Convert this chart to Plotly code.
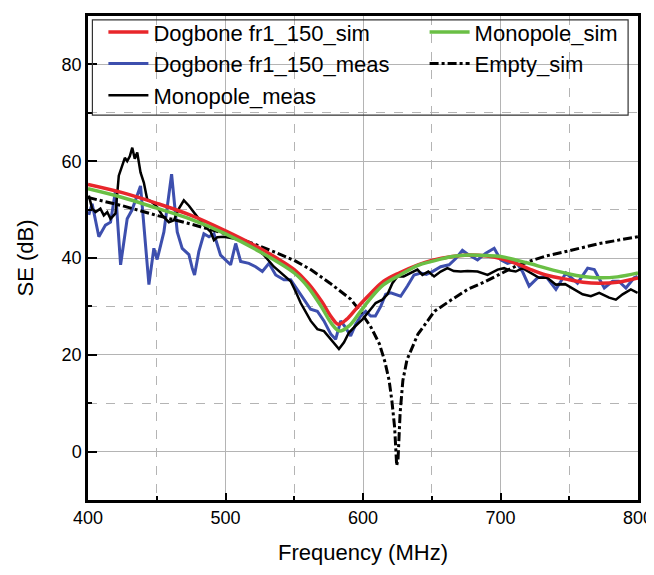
import plotly.graph_objects as go

# Dogbone fr1_150_sim
dog_sim_f = [400, 425, 450, 475, 500, 525, 540, 550, 560, 570, 577, 582, 588, 595, 605, 615, 627,
             640, 650, 665, 677, 690, 700, 711, 722, 733, 750, 760, 772, 785, 800]
dog_sim_se = [55.2, 53.5, 51.3, 48.8, 45.6, 42.0, 39.5, 37.6, 34.8, 31.0, 27.8, 26.3, 27.3, 29.5, 32.5, 35.2, 37.0,
              38.6, 39.5, 40.3, 40.6, 40.4, 39.9, 38.9, 37.6, 36.5, 35.5, 35.0, 34.8, 35.0, 35.9]

# Monopole_sim
mono_sim_f = [400, 425, 450, 475, 500, 525, 550, 560, 570, 577, 583, 590, 597, 605, 615, 627,
              640, 650, 665, 677, 690, 700, 711, 722, 733, 750, 760, 772, 785, 800]
mono_sim_se = [54.3, 52.5, 50.3, 48.0, 45.0, 41.3, 36.9, 34.0, 29.8, 26.5, 24.9, 26.0, 28.5, 31.5, 34.5, 36.5,
               38.5, 39.3, 40.3, 40.6, 40.5, 40.3, 39.6, 38.8, 37.9, 36.7, 36.2, 35.9, 36.1, 36.9]

# Empty_sim
empty_f = [400, 425, 450, 475, 500, 520, 535, 550, 562, 576, 591, 598, 606, 612, 616, 619, 621, 623, 624.5,
           625.5, 627, 629, 632, 640, 647, 652, 664, 676, 688, 700, 711, 724, 733, 750, 772, 800]
empty_se = [52.5, 50.8, 48.8, 47.0, 45.0, 43.0, 41.3, 39.5, 37.6, 34.8, 31.5, 29.0, 25.6, 22.2, 18.5, 14.7, 10.5, 5.0, -2.9,
            -1.5, 8.0, 14.7, 19.0, 24.3, 27.0, 29.0, 31.3, 33.5, 35.0, 36.8, 38.3, 39.6, 40.4, 41.5, 43.0, 44.4]

# Dogbone fr1_150_meas
dog_meas_f = [400.6, 403, 407.9, 412.7, 416.4, 420, 423.7, 428.5, 432, 438.2, 444.3, 447.9, 450.3, 455.2, 460.8,
              464.9, 468.5, 473.4, 475.8, 477.5, 480.6, 484.3, 488, 491.6, 496.4, 503.7, 507.4, 511, 517, 521.9,
              526.8, 531.6, 536.5, 542.5, 547.4, 554.7, 561.9, 566.8, 571.6, 576.5, 580.1, 583.8, 587.4, 591,
              594.7, 598.3, 602, 605.6, 609, 612.9, 616.5, 620.2, 627.4, 632.3, 637.1, 642, 646, 650.5, 656.5,
              662.6, 667.5, 672.3, 677.2, 683.3, 689.3, 695.4, 700.2, 705.1, 711.1, 716, 720.8, 726.9, 733,
              740.3, 747.6, 756, 763.4, 768.2, 775.5, 781.5, 786, 791.2, 797.2, 799.7]
dog_meas_se = [48.9, 51.2, 44.4, 46.8, 47.4, 53.9, 38.6, 48.1, 49.9, 54.9, 34.5, 42.0, 39.7, 45.4, 57.3,
               45.4, 42.0, 40.7, 37.9, 36.5, 41.3, 45.0, 44.4, 45.0, 40.6, 38.6, 43.0, 39.3, 38.9, 38.2,
               37.2, 38.9, 36.5, 35.5, 35.5, 32.5, 29.4, 29.0, 27.0, 24.3, 23.2, 27.0, 25.6, 23.9,
               26.3, 28.0, 29.0, 28.0, 28.0, 30.0, 32.5, 32.8, 32.1, 34.2, 36.5, 36.9, 36.6, 37.2, 38.2,
               38.6, 39.9, 41.6, 40.6, 39.6, 41.0, 42.0, 39.6, 38.9, 39.3, 37.2, 34.2, 35.9, 36.2,
               33.5, 36.9, 34.8, 37.9, 37.6, 33.8, 35.2, 35.2, 33.8, 35.9, 36.2]

# Monopole_meas
mono_meas_f = [400.6, 403, 405.5, 409, 411.5, 414, 416.4, 420, 422.4, 424.9, 426.8, 428.5, 430.4, 432.2, 434,
               435.8, 438.2, 440.6, 443, 446.7, 450.4, 454, 458.8, 462.5, 466.1, 469.7, 473.4, 479.5, 484.3,
               489.2, 491.6, 494, 498.8, 506.1, 513.4, 520.7, 528, 535.2, 542.5, 547.4, 551, 554.7, 562,
               566.8, 571.6, 576.5, 580.1, 582.5, 586.2, 589.8, 594.7, 599.6, 604.4, 609.2, 614.1, 617.8,
               621.4, 625, 629.6, 634.7, 639.6, 643.2, 647.5, 651.7, 656.5, 661.4, 666, 671.1, 676, 683.3,
               690.6, 697.9, 702.6, 707, 711.1, 716, 722, 728.1, 734, 740.3, 747, 753.6, 759.7, 765.7,
               771.8, 779, 783.9, 788.8, 794.8, 799.7]
mono_meas_se = [52.9, 50.2, 49.5, 50.2, 48.8, 49.5, 48.1, 49.2, 57.0, 59.0, 60.7, 60.0, 61.0, 62.8, 60.5,
                61.8, 57.7, 55.6, 52.2, 51.5, 50.5, 48.8, 47.4, 47.8, 50.2, 51.9, 50.8, 48.5, 46.8,
                45.4, 43.7, 44.3, 44.4, 44.0, 43.4, 42.3, 40.6, 38.2, 36.5, 35.2, 33.1, 30.7, 27.0,
                25.3, 24.9, 23.2, 21.9, 21.2, 22.6, 24.6, 26.0, 27.3, 29.0, 30.7, 31.4, 32.5,
                34.8, 36.2, 36.2, 36.9, 37.6, 36.5, 37.2, 36.2, 37.2, 37.9, 37.3, 37.2, 37.3, 37.2,
                36.5, 37.6, 37.9, 37.4, 37.2, 37.9, 36.9, 35.9, 35.9, 34.5, 34.6, 33.5, 32.5, 32.1,
                32.8, 31.8, 31.4, 32.5, 33.5, 32.8]

fig = go.Figure()

fig.add_trace(go.Scatter(x=dog_meas_f, y=dog_meas_se, mode="lines", name="Dogbone fr1_150_meas",
                         line=dict(color="#3d4fae", width=3), legend="legend", legendrank=2))
fig.add_trace(go.Scatter(x=mono_meas_f, y=mono_meas_se, mode="lines", name="Monopole_meas",
                         line=dict(color="black", width=2.5), legend="legend", legendrank=3))
fig.add_trace(go.Scatter(x=empty_f, y=empty_se, mode="lines", name="Empty_sim",
                         line=dict(color="black", width=3, dash="dashdot"), legend="legend2", legendrank=2))
fig.add_trace(go.Scatter(x=dog_sim_f, y=dog_sim_se, mode="lines", name="Dogbone fr1_150_sim",
                         line=dict(color="#e8262b", width=3.5, shape="spline"), legend="legend", legendrank=1))
fig.add_trace(go.Scatter(x=mono_sim_f, y=mono_sim_se, mode="lines", name="Monopole_sim",
                         line=dict(color="#6abf45", width=3.5, shape="spline"), legend="legend2", legendrank=1))

FONT = "Liberation Sans, Arial, sans-serif"
axis_font = dict(family=FONT, size=18, color="black")
title_font = dict(family=FONT, size=22, color="black")

fig.update_xaxes(
    range=[400, 800], dtick=100, tick0=400,
    ticks="inside", ticklen=7, tickwidth=2, tickcolor="black",
    showline=True, linecolor="black", linewidth=2.5, mirror=True,
    showgrid=True, gridcolor="#b4b4b4", gridwidth=1.3,
    minor=dict(dtick=50, ticks="inside", ticklen=4, tickcolor="black", showgrid=True,
               gridcolor="#b4b4b4", griddash="dash", gridwidth=1),
    tickfont=axis_font,
    title=dict(text="Frequency (MHz)", font=title_font, standoff=18),
    zeroline=False, automargin=False,
)
fig.update_yaxes(
    range=[-10, 90], tickvals=[0, 20, 40, 60, 80],
    ticks="inside", ticklen=9, tickwidth=2, tickcolor="black",
    showline=True, linecolor="black", linewidth=2.5, mirror=True,
    showgrid=True, gridcolor="#b4b4b4", gridwidth=1.3,
    minor=dict(tickvals=[10, 30, 50, 70], ticks="inside", ticklen=4, tickcolor="black", showgrid=True,
               gridcolor="#b4b4b4", griddash="dash", gridwidth=1),
    tickfont=axis_font,
    title=dict(text="SE (dB)", font=title_font, standoff=22),
    zeroline=False, automargin=False,
)

# page body has an 8px margin, so the figure is a bit smaller than the window
leg_font = dict(family=FONT, size=22, color="black")
fig.update_layout(
    width=646, height=567,
    margin=dict(l=80, r=16, t=3, b=75),
    plot_bgcolor="white", paper_bgcolor="white",
    legend=dict(x=0.028, y=1.01, xanchor="left", yanchor="top", font=leg_font,
                bgcolor="rgba(0,0,0,0)", traceorder="normal", itemwidth=40),
    legend2=dict(x=0.612, y=1.01, xanchor="left", yanchor="top", font=leg_font,
                 bgcolor="rgba(0,0,0,0)", traceorder="normal", itemwidth=40),
    shapes=[dict(type="rect", xref="paper", yref="paper", x0=0.008, x1=0.982, y0=0.795, y1=0.992,
                 line=dict(color="#333333", width=1.2))],
)

fig.write_html("out.html")
